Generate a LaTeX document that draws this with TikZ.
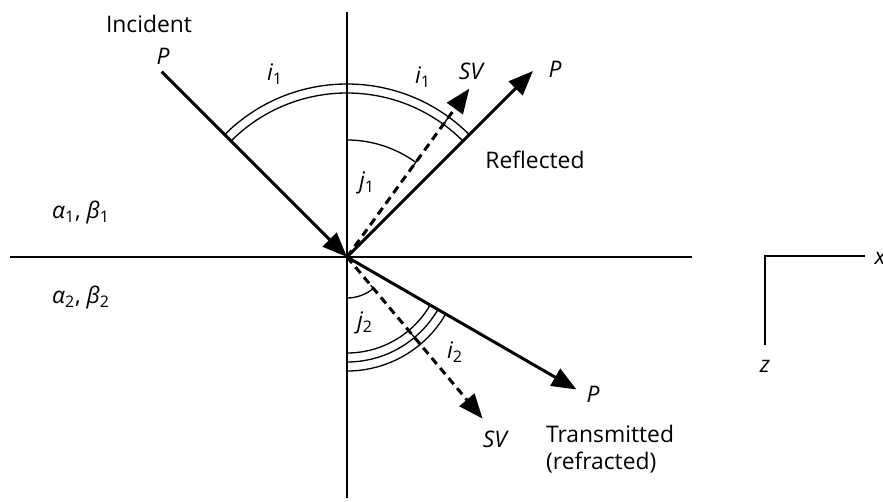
\documentclass[tikz,border=0pt]{standalone}
\usepackage{fontspec}
\setmainfont{Open Sans}
\usepackage{tikz}
\usetikzlibrary{arrows.meta, positioning, calc}
\newcommand{\sym}[2]{{\itshape #1}\textsubscript{#2}}

\begin{document}
\begin{tikzpicture}[
    x=0.02cm, y=0.02cm,
    axis/.style={line width=0.85pt},
    ray/.style={line width=1.7pt, -{Triangle[length=14pt, width=11pt]}},
    svray/.style={ray, dash pattern=on 4.5pt off 3pt},
    angarc/.style={line width=0.75pt},
    lbl/.style={font=\fontsize{13}{15}\selectfont, inner sep=1pt},
    ilbl/.style={lbl, font=\fontsize{13}{15}\selectfont\itshape}
]
\useasboundingbox (-347,-244) rectangle (536,257);

% Interface and normal
\coordinate (O) at (0,0);
\coordinate (Ntop) at (0,245);
\coordinate (Nbot) at (0,-241);
\coordinate (Hleft) at (-337,0);
\coordinate (Hright) at (345,0);
\draw[axis] (Ntop) -- (Nbot);
\draw[axis] (Hleft) -- (Hright);

% Ray end points
\coordinate (Pinc) at (135:262);
\coordinate (Pref) at (45:263);
\coordinate (SVref) at (54:208);
\coordinate (Ptra) at (-30:265);
\coordinate (SVtra) at (-50:211);

% Angle arcs (upper medium)
\draw[angarc] (O) ++(135:173) arc[start angle=135, end angle=45, radius=173];
\draw[angarc] (O) ++(135:164) arc[start angle=135, end angle=45, radius=164];
\draw[angarc] ($(O)+(54:164)$) -- ($(O)+(54:173)$);
\draw[angarc] (O) ++(90:117) arc[start angle=90, end angle=54, radius=117];
\draw[angarc] ($(O)+(54:112)$) -- ($(O)+(54:122)$);

% Angle arcs (lower medium)
\draw[angarc] (O) ++(-90:41) arc[start angle=-90, end angle=-50, radius=41];
\draw[angarc] ($(O)+(-50:37)$) -- ($(O)+(-50:46)$);
\foreach \r in {96,105,114}
    \draw[angarc] (O) ++(-90:\r) arc[start angle=-90, end angle=-30, radius=\r];
\draw[angarc] ($(O)+(-50:96)$) -- ($(O)+(-50:105)$);
\draw[angarc] ($(O)+(-50:105)$) -- ($(O)+(-50:114)$);

% Rays
\draw[ray] (Pinc) -- (O);
\draw[ray] (O) -- (Pref);
\draw[svray] (O) -- (SVref);
\draw[ray] (O) -- (Ptra);
\draw[svray] (O) -- (SVtra);

% Labels
\node[lbl] (incLbl) at (-198,233) {Incident};
\node[ilbl] (PincLbl) at (-184,201) {P};
\node[lbl] (i1a) at (-72,183) {\sym{i}{1}};
\node[lbl] (i1b) at (76,180) {\sym{i}{1}};
\node[ilbl] (SVrefLbl) at (124,186) {SV};
\node[ilbl] (PrefLbl) at (208,188) {P};
\node[lbl] (refLbl) at (188,97) {Reflected};
\node[lbl] (j1) at (20,74) {\sym{j}{1}};
\node[lbl] (med1) at (-266,45) {\sym{α}{1}, \sym{β}{1}};
\node[lbl] (med2) at (-266,-40) {\sym{α}{2}, \sym{β}{2}};
\node[lbl] (j2) at (18,-66) {\sym{j}{2}};
\node[lbl] (i2) at (108,-95) {\sym{i}{2}};
\node[ilbl] (PtraLbl) at (246,-137) {P};
\node[ilbl] (SVtraLbl) at (148,-182) {SV};
\node[lbl, anchor=west, align=left] (traLbl) at (197,-192) {Transmitted\\(refracted)};

% Axes key
\coordinate (Ax) at (418,1);
\coordinate (AxX) at (518,1);
\coordinate (AxZ) at (418,-88);
\draw[axis] (AxX) -- (Ax) -- (AxZ);
\node[ilbl] (xLbl) at (533,-1) {x};
\node[ilbl] (zLbl) at (418,-109) {z};

\end{tikzpicture}
\end{document}
